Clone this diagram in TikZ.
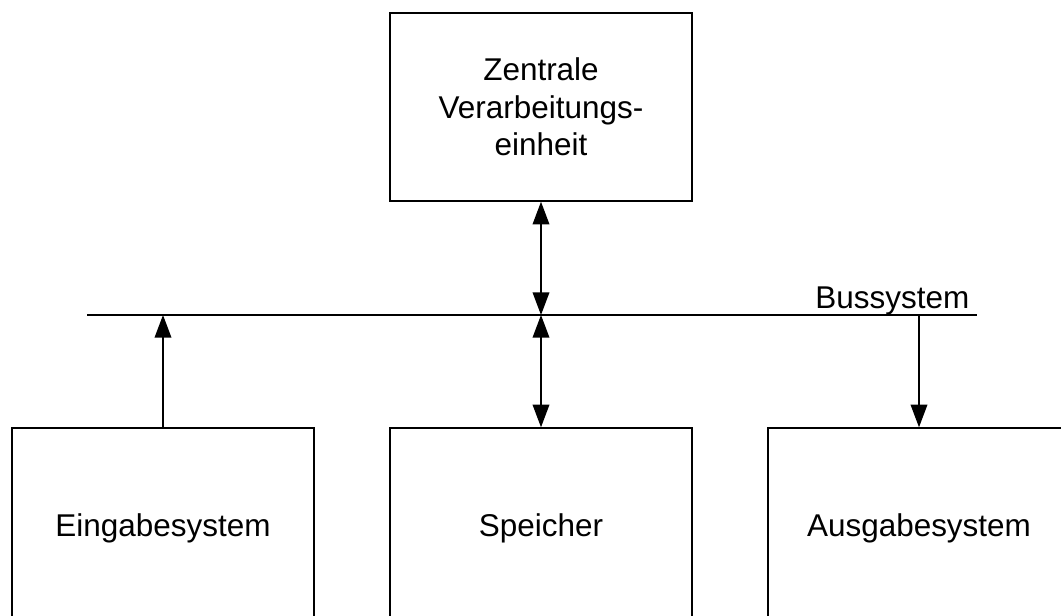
\documentclass[tikz,border=0pt]{standalone}
\usepackage{fontspec}
\setmainfont{Liberation Sans}
\usetikzlibrary{positioning,calc}
\usetikzlibrary{arrows.meta}
\tikzset{
  blk/.style={rectangle, minimum width=226.5pt, minimum height=141pt, text centered, align=center, draw=black, inner sep=0pt},
  lbl/.style={inner sep=0pt},
  pf/.style={-{Triangle[length=17pt,width=12.5pt]}},
  dpf/.style={{Triangle[length=17pt,width=12.5pt]}-{Triangle[length=17pt,width=12.5pt]}}
}

\begin{document}
\begin{tikzpicture}[x=0.75pt,y=-0.75pt,line width=1.1pt,font=\fontsize{23.6}{28.3}\selectfont]
	\useasboundingbox (0,0) rectangle (1061,615);
	\clip (0,0) rectangle (1061,615);

	\node[blk] (cpu) at (541,107) {Zentrale\\Verarbeitungs-\\einheit};
	\node[blk, minimum height=150pt] (eingabe) at (163,528) {Eingabesystem};
	\node[blk, minimum height=150pt] (speicher) at (541,528) {Speicher};
	\node[blk, minimum height=150pt] (ausgabe) at (919,528) {Ausgabesystem};

	% Bus
	\coordinate (busL) at (87,315);
	\coordinate (busR) at (977,315);
	\draw (busL) -- (busR);
	\node[lbl, anchor=base east] (bus) at (970,308) {Bussystem};

	\coordinate (busE) at (eingabe.north |- busL);
	\coordinate (busC) at (cpu.south |- busL);
	\coordinate (busS) at (speicher.north |- busL);
	\coordinate (busA) at (ausgabe.north |- busL);

	\draw[pf] (eingabe) -- (busE);
	\draw[dpf] (cpu) -- (busC);
	\draw[dpf] (busS) -- (speicher);
	\draw[pf] (busA) -- (ausgabe);
\end{tikzpicture}
\end{document}
